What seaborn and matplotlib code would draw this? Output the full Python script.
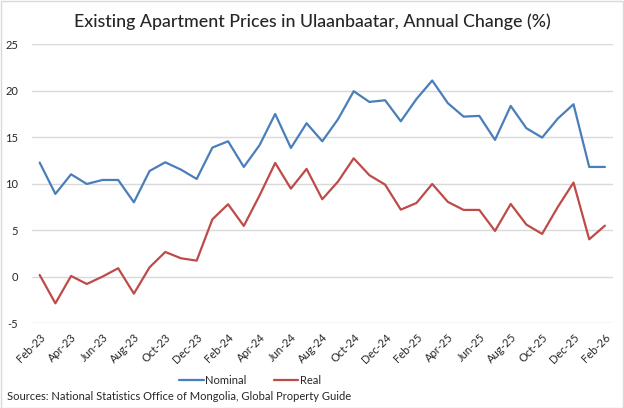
import matplotlib
matplotlib.use("Agg")

import pandas as pd
import matplotlib.pyplot as plt
import seaborn as sns

months = ["Feb-23", "Mar-23", "Apr-23", "May-23", "Jun-23", "Jul-23", "Aug-23", "Sep-23",
          "Oct-23", "Nov-23", "Dec-23", "Jan-24", "Feb-24", "Mar-24", "Apr-24", "May-24",
          "Jun-24", "Jul-24", "Aug-24", "Sep-24", "Oct-24", "Nov-24", "Dec-24", "Jan-25",
          "Feb-25", "Mar-25", "Apr-25", "May-25", "Jun-25", "Jul-25", "Aug-25", "Sep-25",
          "Oct-25", "Nov-25", "Dec-25", "Jan-26", "Feb-26"]

nominal = [12.26, 8.89, 11.0, 9.96, 10.39, 10.39, 7.99, 11.36, 12.29, 11.5, 10.5, 13.87,
           14.55, 11.79, 14.12, 17.49, 13.83, 16.49, 14.55, 16.92, 19.93, 18.78, 18.96, 16.70,
           19.10, 21.08, 18.64, 17.20, 17.28, 14.70, 18.35, 15.95, 14.95, 16.99, 18.53, 11.79,
           11.79]

real = [0.18, -2.87, 0.07, -0.79, 0.0, 0.9, -1.83, 1.0, 2.65, 1.97, 1.72, 6.16,
        7.78, 5.45, 8.71, 12.22, 9.46, 11.58, 8.32, 10.22, 12.72, 10.90, 9.89, 7.20,
        7.92, 9.96, 8.03, 7.17, 7.17, 4.91, 7.81, 5.59, 4.59, 7.49, 10.11, 4.01,
        5.48]

y_ticks = [-5, 0, 5, 10, 15, 20, 25]

sns.set_theme(style="white")
plt.rcParams["font.family"] = ["Lato", "DejaVu Sans"]

df = pd.DataFrame({
    "idx": list(range(len(months))) * 2,
    "value": nominal + real,
    "series": ["Nominal"] * len(months) + ["Real"] * len(months),
})

fig = plt.figure(figsize=(6.24, 4.08), dpi=100)
ax = fig.add_axes([0.051, 0.208, 0.931, 0.684])

sns.lineplot(data=df, x="idx", y="value", hue="series",
             palette={"Nominal": "#4a7ebb", "Real": "#be4b48"},
             linewidth=1.6, ax=ax)

ax.set_xlim(-0.5, len(months) - 0.5)
ax.set_ylim(-5, 25)
ax.set_yticks(y_ticks)
ax.set_yticklabels([str(t) for t in y_ticks], fontsize=8)
ax.set_xticks(range(0, len(months), 2))
ax.set_xticklabels(months[::2], rotation=45, ha="right", rotation_mode="anchor",
                   fontsize=8)
ax.tick_params(axis="x", length=0, pad=6)
ax.tick_params(axis="y", length=0, pad=10)
ax.set_xlabel("")
ax.set_ylabel("")
ax.grid(axis="y", color="#d9d9d9", linewidth=1)
for s in ax.spines.values():
    s.set_visible(False)

ax.legend(loc="center", bbox_to_anchor=(250 / 624, 1 - 380 / 408),
          bbox_transform=fig.transFigure, ncol=2, frameon=False, fontsize=8,
          handlelength=2.2, handletextpad=0.1, columnspacing=2.5)

fig.text(0.5, 1 - 22 / 408, "Existing Apartment Prices in Ulaanbaatar, Annual Change (%)",
         ha="center", va="center", fontsize=12.8, fontweight="medium")
fig.text(7 / 624, 1 - 397 / 408,
         "Sources: National Statistics Office of Mongolia, Global Property Guide",
         ha="left", va="center", fontsize=8)

fig.patches.append(plt.Rectangle((0.001, 0.001), 0.997, 0.997, transform=fig.transFigure,
                                 fill=False, edgecolor="#d9d9d9", linewidth=1))

fig.savefig("out.png", dpi=100)
